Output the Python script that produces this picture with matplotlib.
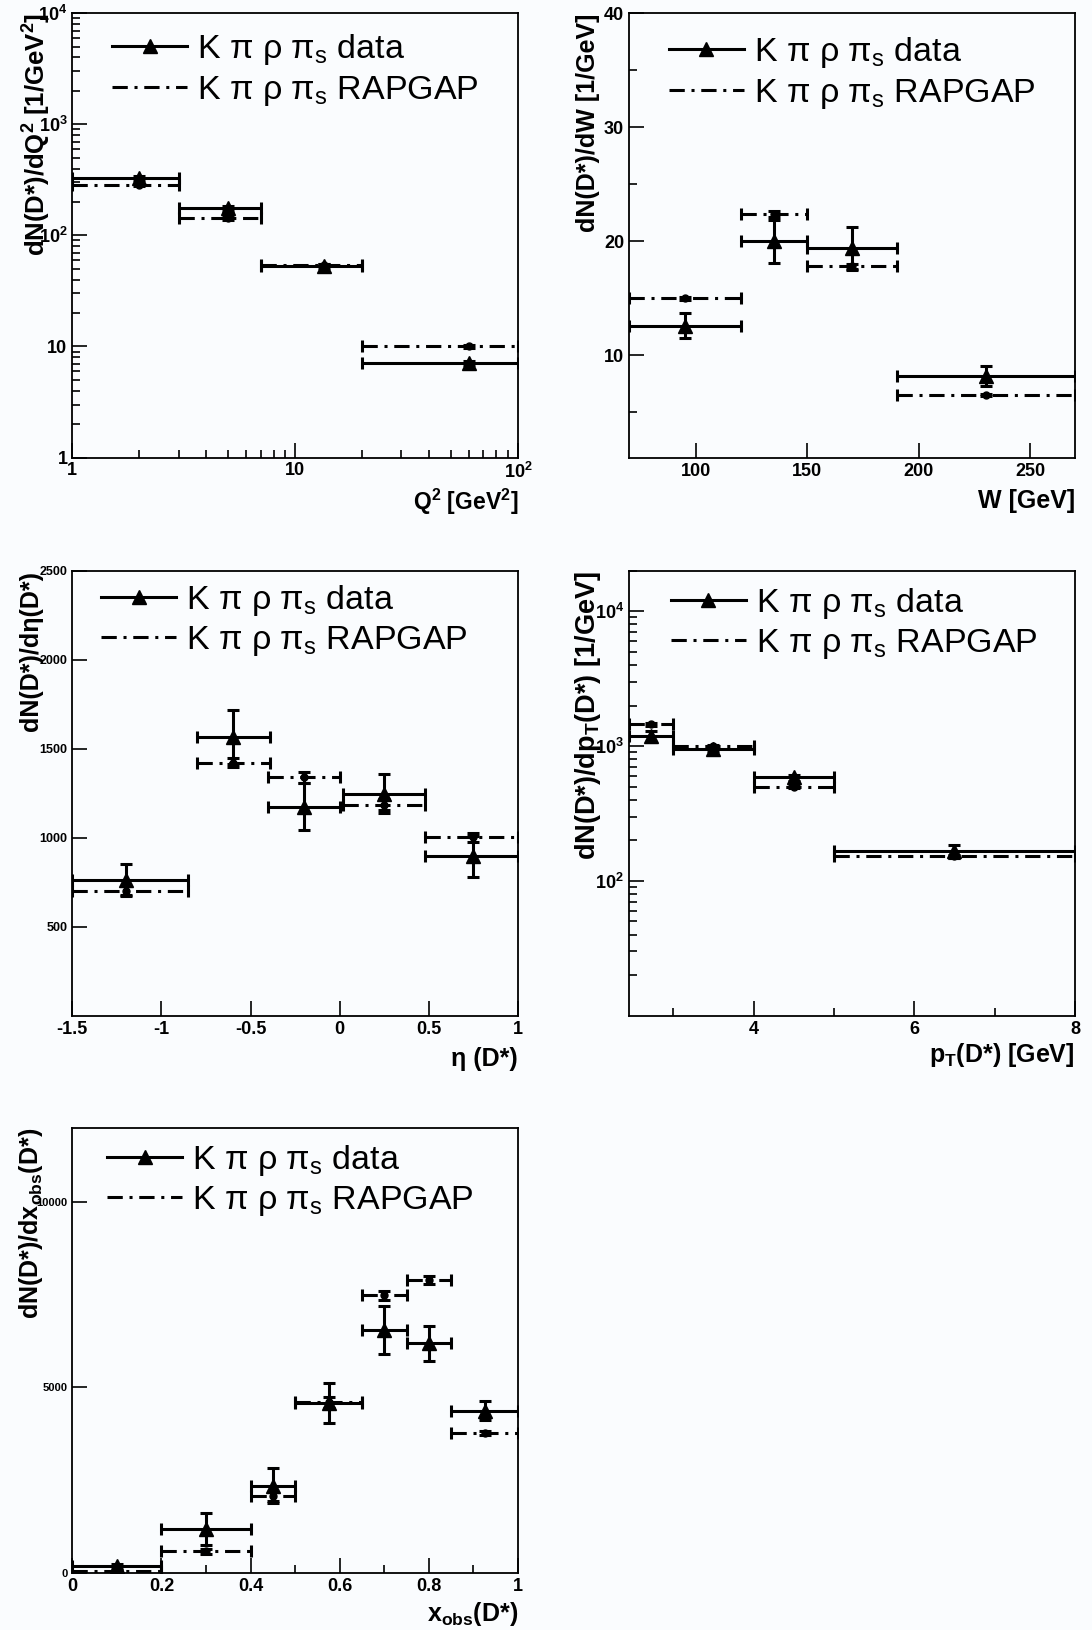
import matplotlib
matplotlib.use("Agg")
import matplotlib.pyplot as plt
from matplotlib.lines import Line2D
from matplotlib.ticker import FixedLocator, FuncFormatter, MultipleLocator, LogLocator, NullFormatter
import numpy as np

# ---------------- data ----------------
# Q^2 panel
q2_lo = [1, 3, 7, 20]
q2_hi = [3, 7, 20, 100]
q2_c = [2, 5, 13.5, 60]
q2_data = [330, 175, 53, 7.1]
q2_data_err = [15, 9, 2.5, 0.35]
q2_rap = [285, 143, 54, 10.0]
q2_rap_err = [6, 4, 1.2, 0.25]

# W panel
w_lo = [70, 120, 150, 190]
w_hi = [120, 150, 190, 270]
w_c = [95, 135, 170, 230]
w_data = [12.6, 20.0, 19.4, 8.2]
w_data_err = [1.1, 1.9, 1.9, 0.85]
w_rap = [15.0, 22.4, 17.8, 6.55]
w_rap_err = [0.15, 0.3, 0.25, 0.1]

# eta panel
eta_lo = [-1.5, -0.8, -0.4, 0.02, 0.48]
eta_hi = [-0.85, -0.39, 0.0, 0.48, 1.0]
eta_c = [-1.2, -0.6, -0.2, 0.25, 0.75]
eta_data = [763, 1565, 1175, 1248, 895]
eta_data_err = [90, 150, 130, 110, 115]
eta_rap = [703, 1422, 1340, 1186, 1003]
eta_rap_err = [25, 25, 30, 30, 25]

# pT panel
pt_lo = [2.45, 3, 4, 5]
pt_hi = [3, 4, 5, 8]
pt_c = [2.72, 3.5, 4.5, 6.5]
pt_data = [1190, 955, 585, 166]
pt_data_err = [110, 40, 30, 18]
pt_rap = [1450, 1000, 500, 152]
pt_rap_err = [40, 20, 12, 4]

# x_obs panel
xo_lo = [0, 0.2, 0.4, 0.5, 0.65, 0.75, 0.85]
xo_hi = [0.2, 0.4, 0.5, 0.65, 0.75, 0.85, 1.0]
xo_c = [0.1, 0.3, 0.45, 0.575, 0.7, 0.8, 0.925]
xo_data = [180, 1180, 2350, 4580, 6540, 6190, 4370]
xo_data_err = [60, 440, 470, 540, 650, 470, 250]
xo_rap = [55, 575, 2060, 4600, 7480, 7890, 3760]
xo_rap_err = [20, 60, 120, 150, 120, 110, 60]

legend_labels = [r"K π ρ π$_\mathregular{s}$ data", r"K π ρ π$_\mathregular{s}$ RAPGAP"]

# ---------------- style ----------------
plt.rcParams['font.family'] = ['Liberation Sans', 'DejaVu Sans']
BG = '#fafcfe'
LW = 2.2
DASH = (0, (5, 2.2, 1.0, 2.2))

fig = plt.figure(figsize=(10.92, 16.30), dpi=100, facecolor=BG)

W_, H_ = 1092.0, 1630.0
def axrect(l, t, r, b):
    return [l / W_, 1 - b / H_, (r - l) / W_, (b - t) / H_]

ax1 = fig.add_axes(axrect(72.3, 13.3, 518, 457.5))
ax2 = fig.add_axes(axrect(629, 13.3, 1075, 458))
ax3 = fig.add_axes(axrect(72.3, 570.7, 518, 1015.7))
ax4 = fig.add_axes(axrect(629, 570.7, 1075, 1015.7))
ax5 = fig.add_axes(axrect(72.3, 1127.7, 518, 1572.7))


def draw(ax, lo, hi, c, d, de, r, re):
    c = np.asarray(c, float)
    lo = np.asarray(lo, float)
    hi = np.asarray(hi, float)
    xerr = [c - lo, hi - c]
    # RAPGAP
    eb = ax.errorbar(c, r, yerr=re, xerr=xerr, fmt='o', color='k', ms=5,
                     lw=LW, capsize=4.5, capthick=LW, zorder=2)
    eb[2][0].set_linestyle(DASH)
    # data
    ax.errorbar(c, d, yerr=de, xerr=xerr, fmt='^', color='k', ms=10,
                lw=LW, capsize=4.5, capthick=LW, zorder=3)


def style(ax, ylabel, xlabel, xlab_off, ylab_off, leg_x, leg_top,
          ysize=18, xsize=18, tsize=13):
    ax.set_facecolor(BG)
    for s in ax.spines.values():
        s.set_linewidth(1.3)
    ax.tick_params(which='both', direction='in', top=False, right=False,
                   width=1.2, labelsize=tsize)
    ax.tick_params(which='major', length=11)
    ax.tick_params(which='minor', length=6)
    ax.set_ylabel(ylabel, loc='top', fontsize=ysize, fontweight='bold')
    ax.set_xlabel(xlabel, loc='right', fontsize=xsize, fontweight='bold')
    h = ax.get_position().height * H_
    w = ax.get_position().width * W_
    ax.yaxis.set_label_coords(-ylab_off / w, 1.0)
    ax.xaxis.set_label_coords(1.0, -xlab_off / h)
    ax.xaxis.label.set_va('center')
    ax.yaxis.label.set_va('center')
    handles = [Line2D([], [], color='k', lw=LW, marker='^', ms=10),
               Line2D([], [], color='k', lw=LW, ls=DASH)]
    ax.legend(handles, legend_labels, loc='upper left', frameon=False,
              bbox_to_anchor=(leg_x / w, 1 - leg_top / h), borderaxespad=0, borderpad=0,
              fontsize=24.5, handlelength=2.2, handletextpad=0.3, labelspacing=0.19)


gfmt = FuncFormatter(lambda v, p: ('%g' % v))

def powfmt(v, p):
    e = int(round(np.log10(v)))
    if e == 0:
        return '1'
    if e == 1:
        return '10'
    return r'$\mathregular{10^{%d}}$' % e

# Panel 1: Q^2
draw(ax1, q2_lo, q2_hi, q2_c, q2_data, q2_data_err, q2_rap, q2_rap_err)
ax1.set_xscale('log'); ax1.set_yscale('log')
ax1.set_xlim(1, 100); ax1.set_ylim(1, 1e4)
ax1.xaxis.set_major_locator(FixedLocator([1, 10, 100]))
ax1.yaxis.set_major_locator(FixedLocator([1, 10, 100, 1000, 10000]))
ax1.xaxis.set_major_formatter(FuncFormatter(powfmt))
ax1.yaxis.set_major_formatter(FuncFormatter(powfmt))
ax1.xaxis.set_minor_formatter(NullFormatter()); ax1.yaxis.set_minor_formatter(NullFormatter())
style(ax1, r"dN(D*)/dQ$^\mathregular{2}$ [1/GeV$^\mathregular{2}$]",
      r"Q$^\mathregular{2}$ [GeV$^\mathregular{2}$]", 44, 37, 40, 19, ysize=18.5, xsize=16.5)

# Panel 2: W
draw(ax2, w_lo, w_hi, w_c, w_data, w_data_err, w_rap, w_rap_err)
ax2.set_xlim(70, 270); ax2.set_ylim(1, 40)
ax2.xaxis.set_major_locator(FixedLocator([100, 150, 200, 250]))
ax2.yaxis.set_major_locator(FixedLocator([10, 20, 30, 40]))
ax2.yaxis.set_minor_locator(FixedLocator([5, 15, 25, 35]))
ax2.xaxis.set_major_formatter(gfmt); ax2.yaxis.set_major_formatter(gfmt)
style(ax2, "dN(D*)/dW [1/GeV]", "W [GeV]", 43, 41, 40, 22)

# Panel 3: eta
draw(ax3, eta_lo, eta_hi, eta_c, eta_data, eta_data_err, eta_rap, eta_rap_err)
ax3.set_xlim(-1.5, 1); ax3.set_ylim(0, 2500)
ax3.xaxis.set_major_locator(FixedLocator([-1.5, -1, -0.5, 0, 0.5, 1]))
ax3.yaxis.set_major_locator(FixedLocator([500, 1000, 1500, 2000, 2500]))
ax3.xaxis.set_major_formatter(gfmt); ax3.yaxis.set_major_formatter(gfmt)
style(ax3, "dN(D*)/dη(D*)", "η (D*)", 43, 41, 29, 12)
ax3.tick_params(axis='y', labelsize=9)

# Panel 4: pT
draw(ax4, pt_lo, pt_hi, pt_c, pt_data, pt_data_err, pt_rap, pt_rap_err)
ax4.set_yscale('log')
ax4.set_xlim(2.45, 8); ax4.set_ylim(10, 2e4)
ax4.xaxis.set_major_locator(FixedLocator([4, 6, 8]))
ax4.xaxis.set_minor_locator(FixedLocator([3, 5, 7]))
ax4.yaxis.set_major_locator(FixedLocator([100, 1000, 10000]))
ax4.yaxis.set_minor_locator(LogLocator(base=10, subs=np.arange(2, 10)))
ax4.xaxis.set_major_formatter(gfmt)
ax4.yaxis.set_major_formatter(FuncFormatter(powfmt))
ax4.yaxis.set_minor_formatter(NullFormatter())
style(ax4, r"dN(D*)/dp$_\mathregular{T}$(D*) [1/GeV]",
      r"p$_\mathregular{T}$(D*) [GeV]", 39, 41, 42, 15, ysize=19.5)

# Panel 5: x_obs
draw(ax5, xo_lo, xo_hi, xo_c, xo_data, xo_data_err, xo_rap, xo_rap_err)
ax5.set_xlim(0, 1); ax5.set_ylim(0, 12000)
ax5.xaxis.set_major_locator(FixedLocator([0, 0.2, 0.4, 0.6, 0.8, 1.0]))
ax5.xaxis.set_minor_locator(MultipleLocator(0.1))
ax5.yaxis.set_major_locator(FixedLocator([0, 5000, 10000]))
ax5.xaxis.set_major_formatter(gfmt); ax5.yaxis.set_major_formatter(gfmt)
style(ax5, r"dN(D*)/dx$_\mathregular{obs}$(D*)", r"x$_\mathregular{obs}$(D*)", 41, 41, 35, 15)
ax5.tick_params(axis='y', labelsize=8)

for ax in (ax1, ax2, ax3, ax4, ax5):
    for lab in ax.get_xticklabels() + ax.get_yticklabels():
        lab.set_fontweight('bold')

fig.savefig('out.png', dpi=100, facecolor=BG)
